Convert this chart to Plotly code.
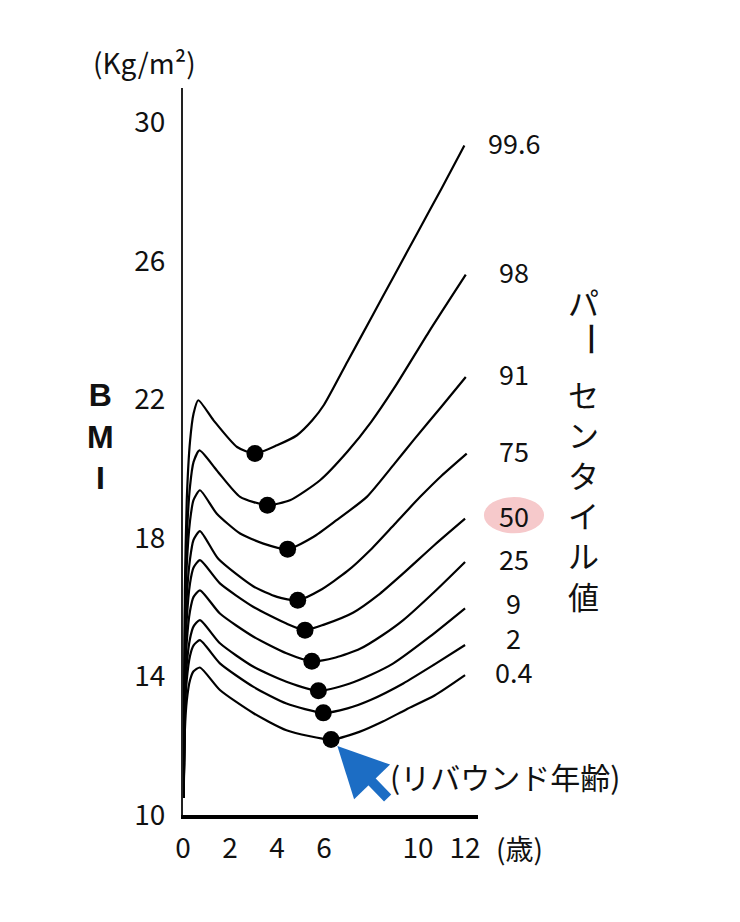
import plotly.graph_objects as go

# BMI percentile curves (age in years, BMI in kg/m2)
percentiles = ["99.6", "98", "91", "75", "50", "25", "9", "2", "0.4"]

age_996 = [0.03, 0.08, 0.16, 0.3, 0.45, 0.65, 1.3, 2.3, 3.06, 4.0, 4.85, 5.5, 6.0, 7.0, 8.0, 9.0, 10.0, 11.0, 11.97]
bmi_996 = [10.5, 16.5, 19.1, 20.8, 21.6, 21.98, 21.4, 20.63, 20.44, 20.68, 20.97, 21.4, 21.85, 23.1, 24.35, 25.6, 26.85, 28.1, 29.34]

age_98 = [0.03, 0.08, 0.16, 0.3, 0.45, 0.7, 1.43, 2.43, 3.59, 4.55, 5.83, 7.0, 8.0, 9.0, 10.5, 12.03]
bmi_98 = [10.5, 15.7, 18.0, 19.5, 20.2, 20.53, 19.96, 19.19, 18.95, 19.09, 19.67, 20.5, 21.35, 22.35, 24.0, 25.61]

age_91 = [0.03, 0.08, 0.16, 0.3, 0.45, 0.72, 1.43, 2.43, 3.42, 4.45, 5.54, 6.5, 7.82, 9.0, 9.8, 11.0, 12.03]
bmi_91 = [10.5, 15.1, 17.2, 18.5, 19.1, 19.38, 18.71, 18.13, 17.84, 17.68, 18.03, 18.5, 19.19, 20.15, 20.82, 21.8, 22.65]

age_75 = [0.03, 0.08, 0.16, 0.3, 0.45, 0.72, 1.5, 3.0, 4.0, 4.88, 5.83, 7.0, 7.96, 9.0, 10.09, 11.0, 12.07]
bmi_75 = [10.5, 14.5, 16.3, 17.4, 17.95, 18.2, 17.4, 16.6, 16.3, 16.2, 16.49, 17.05, 17.65, 18.4, 19.19, 19.8, 20.44]

age_50 = [0.03, 0.08, 0.16, 0.3, 0.45, 0.72, 1.57, 3.0, 4.4, 5.19, 6.0, 7.25, 8.3, 9.37, 10.7, 12.0]
bmi_50 = [10.5, 14.1, 15.65, 16.7, 17.15, 17.36, 16.69, 16.01, 15.53, 15.34, 15.5, 15.85, 16.35, 16.98, 17.8, 18.56]

age_25 = [0.03, 0.08, 0.16, 0.3, 0.45, 0.72, 1.57, 3.0, 4.4, 5.48, 6.5, 7.53, 8.5, 9.37, 10.7, 12.0]
bmi_25 = [10.5, 13.6, 15.0, 15.9, 16.3, 16.49, 15.82, 15.15, 14.67, 14.44, 14.55, 14.8, 15.2, 15.63, 16.45, 17.31]

age_9 = [0.03, 0.08, 0.16, 0.3, 0.45, 0.72, 1.57, 3.0, 4.4, 5.76, 7.1, 8.0, 8.95, 10.5, 12.0]
bmi_9 = [10.5, 13.2, 14.35, 15.1, 15.45, 15.63, 14.96, 14.28, 13.85, 13.59, 13.8, 14.05, 14.38, 15.15, 15.97]

age_2 = [0.03, 0.08, 0.16, 0.3, 0.45, 0.72, 1.57, 3.0, 4.4, 5.97, 7.0, 8.0, 9.37, 10.7, 12.0]
bmi_2 = [10.5, 12.9, 13.9, 14.6, 14.9, 15.05, 14.38, 13.7, 13.22, 12.95, 13.08, 13.33, 13.8, 14.35, 14.91]

age_04 = [0.03, 0.08, 0.16, 0.3, 0.45, 0.72, 1.57, 3.0, 4.4, 6.3, 7.5, 8.5, 9.5, 10.7, 12.0]
bmi_04 = [10.5, 12.45, 13.3, 13.9, 14.15, 14.26, 13.61, 12.94, 12.45, 12.18, 12.4, 12.7, 13.05, 13.45, 14.04]

curves = [(age_996, bmi_996), (age_98, bmi_98), (age_91, bmi_91), (age_75, bmi_75), (age_50, bmi_50),
          (age_25, bmi_25), (age_9, bmi_9), (age_2, bmi_2), (age_04, bmi_04)]

x_ticks = [0, 2, 4, 6, 10, 12]
y_ticks = [10, 14, 18, 22, 26, 30]

JP = "Noto Sans CJK JP"
Y_MIN, Y_MAX = 10, 31

fig = go.Figure()

# rebound point = lowest value after the infant peak
reb_x, reb_y = [], []
for ages, bmis in curves:
    fig.add_trace(go.Scatter(x=ages, y=bmis, mode="lines",
                             line=dict(color="black", width=2.2, shape="spline", smoothing=0.6),
                             hoverinfo="skip", showlegend=False))
    after = [(b, a) for a, b in zip(ages, bmis) if a > 1]
    b_min, a_min = min(after)
    reb_x.append(a_min)
    reb_y.append(b_min)

fig.add_trace(go.Scatter(x=reb_x, y=reb_y, mode="markers",
                         marker=dict(color="black", size=17), showlegend=False))

def note(x, y, text, size=28, **kw):
    # text placed in paper coordinates, centred on (x, y)
    fig.add_annotation(xref="paper", yref="paper", x=x, y=y, text=text, showarrow=False,
                       xanchor="center", yanchor="middle",
                       font=dict(family=kw.pop("family", JP), size=size, color="#111"), **kw)

# percentile labels next to the curve ends, pushed apart so they don't collide
label_x = 1.122
ends = [b[-1] + 0.1 for a, b in curves]
label_y = [0] * len(ends)
prev = None
for i in reversed(range(len(ends))):
    y = ends[i]
    if prev is not None and y < prev + 1.0:
        y = prev + 1.0
    label_y[i] = y
    prev = y

for name, ly in zip(percentiles, label_y):
    py = (ly - Y_MIN) / (Y_MAX - Y_MIN)
    if name == "50":
        fig.add_shape(type="circle", xref="paper", yref="paper", layer="below",
                      x0=label_x - 0.102, x1=label_x + 0.102, y0=py - 0.025, y1=py + 0.025,
                      fillcolor="#f6c9cb", line=dict(width=0))
    note(label_x, py, name, size=27)

# arrow to the lowest rebound point
fig.add_annotation(x=reb_x[-1], y=reb_y[-1], ax=58, ay=60, axref="pixel", ayref="pixel",
                   showarrow=True, arrowhead=2, arrowsize=1.0, arrowwidth=10, standoff=9,
                   arrowcolor="#1c6dc4", text="")
fig.add_annotation(x=8.7, y=11.13, text="(リバウンド年齢)", showarrow=False, xanchor="left",
                   yanchor="middle", font=dict(family=JP, size=30, color="#111"))

# axis titles and side text
note(-0.129, 1.036, "(Kg/m²)", size=28)
note(-0.281, 0.521, "<b>B<br>M<br>I</b>", size=32, family="Liberation Sans")
note(1.142, -0.045, "(歳)", size=28)
note(1.359, 0.706, "パ", size=31)
note(1.389, 0.655, "ー", size=36, textangle=90)
note(1.359, 0.441, "セ<br>ン<br>タ<br>イ<br>ル<br>値", size=31)

fig.update_xaxes(range=[0, 12.55], tickvals=x_ticks, ticks="", showgrid=False, zeroline=False,
                 showline=True, linecolor="black", linewidth=4, ticklabelstandoff=5,
                 tickfont=dict(family=JP, size=28, color="#111"))
fig.update_yaxes(range=[Y_MIN, Y_MAX], tickvals=y_ticks, ticks="", showgrid=False, zeroline=False,
                 showline=True, linecolor="#222", linewidth=2, ticklabelstandoff=10,
                 tickfont=dict(family=JP, size=28, color="#111"))

# page body adds an 8px margin, so the figure is drawn 8px smaller
fig.update_layout(width=732, height=914, margin=dict(l=175, r=262, t=80, b=107),
                  plot_bgcolor="white", paper_bgcolor="white", showlegend=False)

fig.write_html("out.html")
